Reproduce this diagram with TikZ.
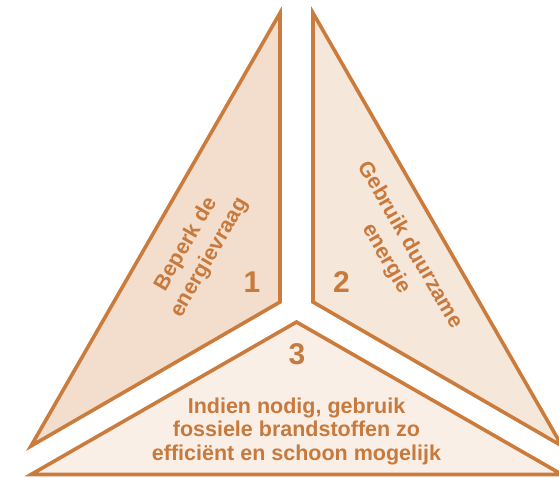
\documentclass[tikz,border=0pt]{standalone}
\usepackage{fontspec}
\setmainfont{Liberation Sans}
\definecolor{edge}{RGB}{203,124,61}
\definecolor{txt}{RGB}{200,121,60}
\definecolor{fillA}{RGB}{243,222,206}
\definecolor{fillB}{RGB}{246,231,219}
\definecolor{fillC}{RGB}{249,239,231}
\tikzset{
  piece/.style={draw=edge, line width=3.6pt, line join=miter},
  label/.style={text=txt, font=\bfseries\fontsize{21.5}{27}\selectfont, align=center, inner sep=0pt},
  num/.style={text=txt, font=\bfseries\fontsize{30}{30}\selectfont, inner sep=0pt},
}
\begin{document}
\begin{tikzpicture}[x=1pt,y=-1pt]
\useasboundingbox (0,0) rectangle (559,477);
% left piece
\coordinate (lt) at (280,13);
\coordinate (lc) at (280,302);
\coordinate (ll) at (31,446);
% right piece
\coordinate (rt) at (313,13);
\coordinate (rc) at (313,302);
\coordinate (rr) at (562,446);
% bottom piece
\coordinate (bt) at (296.5,322);
\coordinate (bl) at (31,474.5);
\coordinate (br) at (562,474.5);
\draw[piece, fill=fillA] (lt) -- (lc) -- (ll) -- cycle;
\draw[piece, fill=fillB] (rt) -- (rc) -- (rr) -- cycle;
\draw[piece, fill=fillC] (bt) -- (bl) -- (br) -- cycle;
\node[label, rotate=60] (t1) at (198,251) {Beperk de\\energievraag};
\node[label, rotate=-60] (t2) at (398,252) {Gebruik duurzame\\energie};
\node[label, anchor=north, font=\bfseries\fontsize{21.5}{23.5}\selectfont] (t3) at (296.5,397.5) {Indien nodig, gebruik\\fossiele brandstoffen zo\\efficiënt en schoon mogelijk};
\node[num] (n1) at (252,282.5) {1};
\node[num] (n2) at (341.5,282.5) {2};
\node[num] (n3) at (297,354) {3};
\end{tikzpicture}
\end{document}
